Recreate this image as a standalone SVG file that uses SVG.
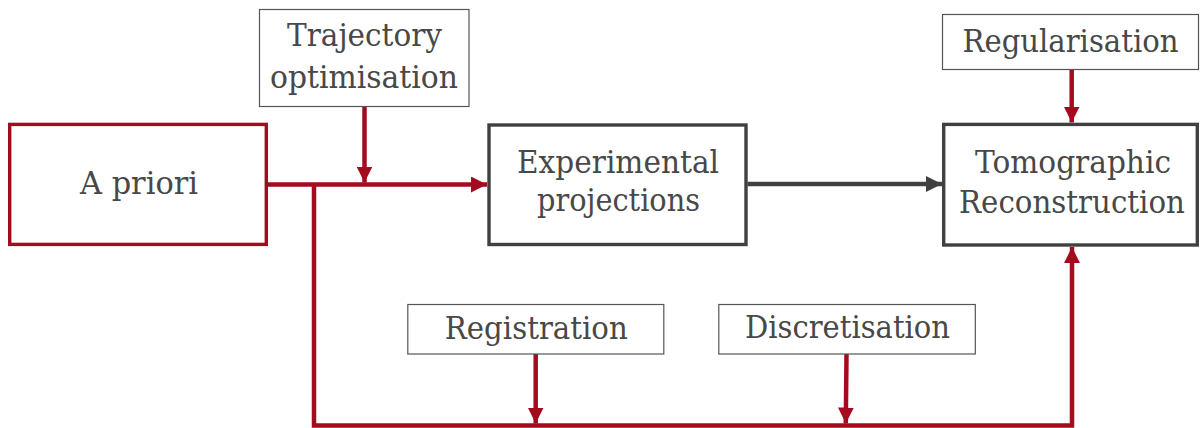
<svg xmlns="http://www.w3.org/2000/svg" width="1201" height="428" viewBox="0 0 1201 428">
<style>
.main{fill:#fff;stroke:#404040;stroke-width:3.4}
.red{fill:#fff;stroke:#a50b1f;stroke-width:3.4}
.thin{fill:#fff;stroke:#555;stroke-width:1.2}
.rl{fill:none;stroke:#a50b1f;stroke-width:4.5}
.dl{fill:none;stroke:#404040;stroke-width:4.5}
</style>
<defs>
<marker id="ar" markerUnits="userSpaceOnUse" markerWidth="16" markerHeight="16" viewBox="0 0 16 16" refX="16" refY="8" orient="auto"><path d="M0,0 L16,8 L0,16 z" fill="#a50b1f"/></marker>
<marker id="ad" markerUnits="userSpaceOnUse" markerWidth="16" markerHeight="16" viewBox="0 0 16 16" refX="16" refY="8" orient="auto"><path d="M0,0 L16,8 L0,16 z" fill="#404040"/></marker>
</defs>
<g id="connectors">
<path class="rl" d="M268,184.5 H487" marker-end="url(#ar)"/>
<path class="rl" d="M364.5,106.5 V182.5" marker-end="url(#ar)"/>
<path class="rl" d="M314,186 V425.5 H1072 V247" marker-end="url(#ar)"/>
<path class="rl" d="M535.7,354 V423.5" marker-end="url(#ar)"/>
<path class="rl" d="M846.5,354 L845.8,423.5" marker-end="url(#ar)"/>
<path class="rl" d="M1071.7,69.5 V122.5" marker-end="url(#ar)"/>
<path class="dl" d="M747.5,184 H942" marker-end="url(#ad)"/>
</g>
<g font-family="DejaVu Serif" font-size="31" fill="#484848" text-anchor="middle">
<g id="apriori">
<rect class="red" x="9.7" y="124.4" width="256.6" height="120"/>
<text x="139" y="194" textLength="118" lengthAdjust="spacingAndGlyphs">A priori</text>
</g>
<g id="trajectory">
<rect class="thin" x="259.5" y="9.5" width="209.5" height="97"/>
<text x="364.5" y="45.5" textLength="155" lengthAdjust="spacingAndGlyphs">Trajectory</text>
<text x="364" y="87.5" textLength="188" lengthAdjust="spacingAndGlyphs">optimisation</text>
</g>
<g id="experimental">
<rect class="main" x="489" y="125" width="257" height="119.5"/>
<text x="618" y="172.7" textLength="202" lengthAdjust="spacingAndGlyphs">Experimental</text>
<text x="618.5" y="211" textLength="163" lengthAdjust="spacingAndGlyphs">projections</text>
</g>
<g id="tomographic">
<rect class="main" x="943.7" y="124.4" width="253.6" height="120.6"/>
<text x="1073" y="173" textLength="196" lengthAdjust="spacingAndGlyphs">Tomographic</text>
<text x="1072" y="213" textLength="226" lengthAdjust="spacingAndGlyphs">Reconstruction</text>
</g>
<g id="regularisation">
<rect class="thin" x="942.5" y="14.5" width="256" height="55"/>
<text x="1070.5" y="51.5" textLength="216" lengthAdjust="spacingAndGlyphs">Regularisation</text>
</g>
<g id="registration">
<rect class="thin" x="407.8" y="304.5" width="256" height="49.5"/>
<text x="536.3" y="338.5" textLength="183" lengthAdjust="spacingAndGlyphs">Registration</text>
</g>
<g id="discretisation">
<rect class="thin" x="718.8" y="304.5" width="256.5" height="49.5"/>
<text x="847.5" y="337.5" textLength="205" lengthAdjust="spacingAndGlyphs">Discretisation</text>
</g>
</g>
</svg>
